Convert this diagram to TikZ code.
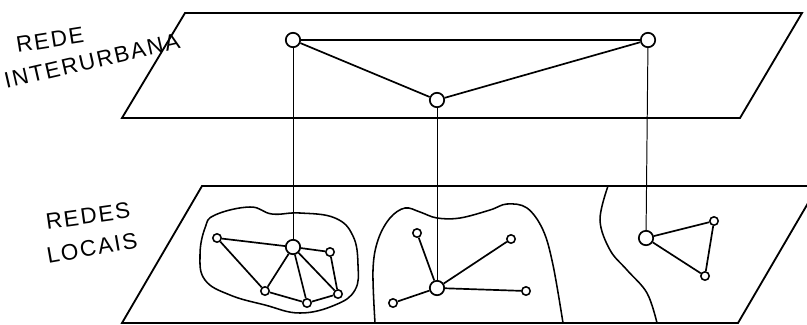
\documentclass[tikz,border=0pt]{standalone}
\usepackage{fontspec}
\usepackage{tikz}
\newfontfamily\handfont[LetterSpace=8]{Liberation Sans}

\begin{document}
\begin{tikzpicture}[x=0.025cm, y=-0.025cm,
    bignode/.style={circle, draw, fill=white, line width=1.2pt, minimum size=0.36cm, inner sep=0pt},
    smallnode/.style={circle, draw, fill=white, line width=1.1pt, minimum size=0.21cm, inner sep=0pt},
    link/.style={line width=1.2pt},
    riser/.style={line width=0.7pt},
    plane/.style={line width=1.3pt},
    border/.style={line width=1.1pt},
    label/.style={font=\handfont\fontsize{16}{18}\selectfont, inner sep=0pt}]
  \useasboundingbox (0,0) rectangle (807,324);
  % planes
  \draw[plane] (185,13) -- (802,13) -- (740,118) -- (122,118) -- cycle;
  \begin{scope}
    \clip (0,0) rectangle (807,324);
    \draw[plane] (202,186) -- (818,186) -- (738,323) -- (122,323) -- cycle;
  \end{scope}
  % local network borders
  \draw[border] plot[smooth cycle, tension=0.7] coordinates {(215,215) (250,207) (272,214) (300,213) (335,218) (353,236) (358,265) (355,290) (335,305) (300,313) (265,305) (230,295) (205,280) (200,255) (205,228)};
  \draw[border] plot[smooth, tension=0.6] coordinates {(375,323) (373,270) (378,240) (390,218) (405,208) (420,212) (437,218) (460,218) (490,210) (507,204) (527,208) (543,230) (553,265) (563,323)};
  \draw[border] plot[smooth, tension=0.6] coordinates {(608,186) (600,220) (610,250) (627,270) (647,293) (657,323)};
  % interurban nodes
  \node[bignode] (ta) at (293,40) {};
  \node[bignode] (tb) at (648,40) {};
  \node[bignode] (tc) at (437,100) {};
  % local nodes, left
  \node[bignode] (lh) at (293,247) {};
  \node[smallnode] (l1) at (217,238) {};
  \node[smallnode] (l2) at (330,252) {};
  \node[smallnode] (l3) at (265,291) {};
  \node[smallnode] (l4) at (307,303) {};
  \node[smallnode] (l5) at (338,294) {};
  % local nodes, middle
  \node[bignode] (mh) at (437,288) {};
  \node[smallnode] (m1) at (417,233) {};
  \node[smallnode] (m2) at (511,239) {};
  \node[smallnode] (m3) at (526,291) {};
  \node[smallnode] (m4) at (393,303) {};
  % local nodes, right
  \node[bignode] (rh) at (646,238) {};
  \node[smallnode] (r1) at (714,221) {};
  \node[smallnode] (r2) at (705,276) {};
  % links
  \draw[link] (ta) -- (tb);
  \draw[link] (ta) -- (tc);
  \draw[link] (tc) -- (tb);
  \draw[riser] (ta) -- (lh);
  \draw[riser] (tc) -- (mh);
  \draw[riser] (tb) -- (rh);
  \draw[link] (l1) -- (lh);
  \draw[link] (l1) -- (l3);
  \draw[link] (lh) -- (l2);
  \draw[link] (lh) -- (l3);
  \draw[link] (lh) -- (l4);
  \draw[link] (lh) -- (l5);
  \draw[link] (l2) -- (l5);
  \draw[link] (l3) -- (l4);
  \draw[link] (l4) -- (l5);
  \draw[link] (mh) -- (m1);
  \draw[link] (mh) -- (m2);
  \draw[link] (mh) -- (m3);
  \draw[link] (mh) -- (m4);
  \draw[link] (rh) -- (r1);
  \draw[link] (rh) -- (r2);
  \draw[link] (r1) -- (r2);
  % labels
  \node[label, rotate=9] (rede) at (50,40) {REDE};
  \node[label, rotate=13] (interurbana) at (92,61) {INTERURBANA};
  \node[label, rotate=8] (redes) at (88,216) {REDES};
  \node[label, rotate=10] (locais) at (92,248) {LOCAIS};
\end{tikzpicture}
\end{document}
